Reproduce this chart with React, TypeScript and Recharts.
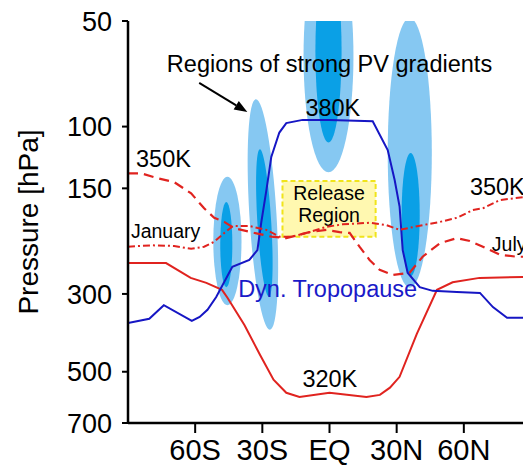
import React from 'react';
import {
  ComposedChart,
  Line,
  XAxis,
  YAxis,
  ReferenceArea,
  ReferenceLine,
  Scatter,
} from 'recharts';

// ---------- axes ----------
const xTickValues = [-60, -30, 0, 30, 60];
const xTickLabels = ['60S', '30S', 'EQ', '30N', '60N'];
const yTickValues = [50, 100, 150, 300, 500, 700];

// ---------- series: [latitude, pressure hPa] ----------
const theta320K: [number, number][] = [
  [-90, 245], [-73, 245], [-62, 270], [-55, 279], [-48, 292], [-45.5, 308],
  [-38, 368], [-31, 448], [-25, 527], [-19.3, 574], [-13.4, 590], [0, 574],
  [16.5, 590], [22.5, 582], [27, 555], [31.3, 517], [39, 390], [48, 292],
  [55, 278], [67, 270], [90, 268],
];

const dynTropopause: [number, number][] = [
  [-90, 363], [-80.5, 353], [-74, 323], [-61.5, 358], [-58, 349], [-54.5, 333],
  [-50.6, 306], [-43.4, 251], [-35.8, 240], [-32.2, 225], [-30.5, 188],
  [-28.2, 152], [-26, 122], [-22.4, 104], [-19.3, 97.7], [-12, 95.7], [0, 95.7],
  [19.3, 96.6], [26, 116.6], [29.1, 142], [31.3, 169], [32.7, 225], [34.9, 261],
  [40.3, 287], [46.1, 294], [56.9, 296], [67.2, 298], [73, 327], [79.3, 351],
  [90, 351],
];

const theta350Dashed: [number, number][] = [
  [-90, 136], [-84, 136], [-77.5, 140], [-69.4, 144], [-61.8, 155], [-56, 171],
  [-51.5, 182], [-47, 187], [-42.5, 195], [-35, 200], [-26, 206], [-19.3, 208],
  [-9, 200], [-1.3, 197], [4.5, 200], [9, 201], [13.4, 220], [17.9, 240],
  [22.4, 256], [28.2, 265], [35.8, 261], [41.6, 235], [49.3, 215], [56.9, 208],
  [62.7, 212], [68.5, 220], [76.1, 232], [83.7, 235], [90, 235],
];

const theta350DashDot: [number, number][] = [
  [-90, 220], [-79.3, 218], [-69.4, 219], [-61.8, 223], [-56, 220], [-51.5, 213],
  [-47, 201], [-43, 192], [-36, 192], [-28.2, 197], [-22.4, 206], [-16.6, 206],
  [-9, 200], [-1.3, 193], [5.8, 190], [17.9, 188], [25.5, 191], [31.3, 197],
  [41.6, 191], [49.3, 187], [56.9, 182], [64, 173], [68.5, 171], [76.1, 162],
  [86.4, 159], [90, 158],
];

// ---------- regions of strong PV gradients (lat range, pressure range) ----------
const pvOuter = [
  { lat1: -51.9, lat2: -39.3, p1: 139, p2: 323 },
  { lat1: -35.8, lat2: -23.7, p1: 83.4, p2: 380 },
  { lat1: -11.6, lat2: 10.7, p1: 29.4, p2: 135 },
  { lat1: 26, lat2: 45.7, p1: 49, p2: 288 },
];
const pvInner = [
  { lat1: -48.8, lat2: -43.4, p1: 164, p2: 287 },
  { lat1: -32.2, lat2: -26.0, p1: 116, p2: 306 },
  { lat1: -6.3, lat2: 5.4, p1: 33.5, p2: 111 },
  { lat1: 32.2, lat2: 40.3, p1: 119, p2: 267 },
];
// slight lean of each region (degrees), style only
const pvTilt = [0, -3.5, 0, 0];

const releaseRegion = { lat1: -21, lat2: 20.6, p1: 143, p2: 206 };
const releaseText = ['Release', 'Region'];

const arrowFrom = { lat: -58.2, p: 75.1 };
const arrowTo = { lat: -36.7, p: 90.9 };

// ---------- annotations (anchor in data coordinates) ----------
const annotations = [
  { text: 'Regions of strong PV gradients', lat: 0, p: 70, kind: 'bigCenter' },
  { text: '380K', lat: 1.5, p: 93.3, kind: 'bigCenter' },
  { text: '350K', lat: -86.4, p: 130, kind: 'big' },
  { text: '350K', lat: 62.7, p: 157, kind: 'big' },
  { text: 'January', lat: -88.7, p: 208, kind: 'small' },
  { text: 'July', lat: 72.5, p: 226, kind: 'small' },
  { text: 'Dyn. Tropopause', lat: -40.8, p: 306, kind: 'blue' },
  { text: '320K', lat: -12.1, p: 552, kind: 'big' },
];

const FONT = '"Liberation Sans", Arial, Helvetica, sans-serif';
const annotationStyles: Record<string, { size: number; color: string; anchor: 'start' | 'middle' }> = {
  bigCenter: { size: 23.5, color: '#000', anchor: 'middle' },
  big: { size: 23.5, color: '#000', anchor: 'start' },
  small: { size: 19.5, color: '#000', anchor: 'start' },
  blue: { size: 23.5, color: '#1a1ac8', anchor: 'start' },
};

const toRows = (arr: [number, number][]) => arr.map(([lat, p]) => ({ lat, p }));

const RED = '#e0231f';
const BLUE = '#1616c4';
const LIGHT = '#86c8f2';
const DARK = '#0aa0e6';

const ellipseShape = (fill: string, tilt: number) => (props: any) => {
  const x = Math.min(props.x, props.x + props.width);
  const y = Math.min(props.y, props.y + props.height);
  const w = Math.abs(props.width);
  const h = Math.abs(props.height);
  const cx = x + w / 2;
  const cy = y + h / 2;
  return (
    <g clipPath={props.clipPath}>
      <ellipse
        cx={cx}
        cy={cy}
        rx={w / 2}
        ry={h / 2}
        fill={fill}
        stroke="none"
        transform={tilt ? `rotate(${tilt} ${cx} ${cy})` : undefined}
      />
    </g>
  );
};

const releaseShape = (props: any) => {
  const x = Math.min(props.x, props.x + props.width);
  const y = Math.min(props.y, props.y + props.height);
  const w = Math.abs(props.width);
  const h = Math.abs(props.height);
  return (
    <g>
      <rect x={x} y={y} width={w} height={h} fill="#fff8b0" stroke="#f0e41a" strokeWidth={2} strokeDasharray="5 3" />
      <text x={x + w / 2} y={y + 19} textAnchor="middle" fontSize={19.5} fontFamily={FONT} fill="#000">
        {releaseText[0]}
      </text>
      <text x={x + w / 2} y={y + 41} textAnchor="middle" fontSize={19.5} fontFamily={FONT} fill="#000">
        {releaseText[1]}
      </text>
    </g>
  );
};

const arrowShape = (props: any) => {
  const { x1, y1, x2, y2 } = props;
  const dx = x2 - x1;
  const dy = y2 - y1;
  const len = Math.sqrt(dx * dx + dy * dy);
  const ux = dx / len;
  const uy = dy / len;
  const headL = 13;
  const headW = 5;
  const bx = x2 - ux * headL;
  const by = y2 - uy * headL;
  const px = -uy;
  const py = ux;
  return (
    <g>
      <line x1={x1} y1={y1} x2={bx} y2={by} stroke="#000" strokeWidth={2} />
      <polygon
        points={`${x2},${y2} ${bx + px * headW},${by + py * headW} ${bx - px * headW},${by - py * headW}`}
        fill="#000"
      />
    </g>
  );
};

const annotationShape = (props: any) => {
  const { cx, cy, payload } = props;
  const st = annotationStyles[payload.kind];
  return (
    <text x={cx} y={cy} textAnchor={st.anchor} fontSize={st.size} fill={st.color} fontFamily={FONT}>
      {payload.text}
    </text>
  );
};

export default function App() {
  return (
    <div style={{ position: 'fixed', left: 0, top: 0, width: 523, height: 465, overflow: 'hidden', background: '#fff' }}>
      <ComposedChart width={545} height={465} margin={{ top: 21, right: 14, bottom: 0, left: 0 }}>
        <XAxis
          dataKey="lat"
          type="number"
          domain={[-90, 90]}
          ticks={xTickValues}
          tickFormatter={(v: number) => xTickLabels[xTickValues.indexOf(v)]}
          height={42}
          tickSize={10}
          tickMargin={6}
          axisLine={{ stroke: '#000', strokeWidth: 2.5 }}
          tickLine={{ stroke: '#000', strokeWidth: 2 }}
          tick={{ fontSize: 29, fill: '#000', fontFamily: FONT }}
          allowDataOverflow
        />
        <XAxis
          xAxisId="top"
          orientation="top"
          type="number"
          domain={[-90, 90]}
          height={0}
          tick={false}
          tickLine={false}
          axisLine={{ stroke: '#000', strokeWidth: 2.5 }}
        />
        <YAxis
          type="number"
          scale="log"
          domain={[50, 700]}
          reversed
          ticks={yTickValues}
          width={128}
          tickSize={6}
          tickMargin={10}
          axisLine={{ stroke: '#000', strokeWidth: 2.5 }}
          tickLine={{ stroke: '#000', strokeWidth: 2 }}
          tick={{ fontSize: 27, fill: '#000', fontFamily: FONT }}
          allowDataOverflow
          label={{
            content: (props: any) => {
              const vb = props.viewBox || { x: 0, y: 21, width: 128, height: 402 };
              const cy = vb.y + vb.height / 2;
              return (
                <text
                  x={28}
                  y={cy}
                  transform={`rotate(-90 28 ${cy})`}
                  textAnchor="middle"
                  dominantBaseline="central"
                  fontSize={28}
                  fontFamily={FONT}
                  fill="#000"
                >
                  Pressure [hPa]
                </text>
              );
            },
          }}
        />

        {pvOuter.map((e, i) => (
          <ReferenceArea
            key={`o${i}`}
            x1={e.lat1}
            x2={e.lat2}
            y1={e.p1}
            y2={e.p2}
            ifOverflow="hidden"
            shape={ellipseShape(LIGHT, pvTilt[i])}
          />
        ))}
        {pvInner.map((e, i) => (
          <ReferenceArea
            key={`i${i}`}
            x1={e.lat1}
            x2={e.lat2}
            y1={e.p1}
            y2={e.p2}
            ifOverflow="hidden"
            shape={ellipseShape(DARK, pvTilt[i])}
          />
        ))}
        <ReferenceArea
          x1={releaseRegion.lat1}
          x2={releaseRegion.lat2}
          y1={releaseRegion.p1}
          y2={releaseRegion.p2}
          ifOverflow="visible"
          shape={releaseShape}
        />

        <Line data={toRows(theta320K)} dataKey="p" stroke={RED} strokeWidth={2} dot={false} activeDot={false} isAnimationActive={false} />
        <Line data={toRows(dynTropopause)} dataKey="p" stroke={BLUE} strokeWidth={2} dot={false} activeDot={false} isAnimationActive={false} />
        <Line data={toRows(theta350Dashed)} dataKey="p" stroke={RED} strokeWidth={2.2} strokeDasharray="10 6" dot={false} activeDot={false} isAnimationActive={false} />
        <Line data={toRows(theta350DashDot)} dataKey="p" stroke={RED} strokeWidth={2} strokeDasharray="7 3 2 3" dot={false} activeDot={false} isAnimationActive={false} />

        <ReferenceLine
          segment={[{ x: arrowFrom.lat, y: arrowFrom.p }, { x: arrowTo.lat, y: arrowTo.p }]}
          ifOverflow="visible"
          shape={arrowShape}
        />

        <Scatter data={annotations} dataKey="p" shape={annotationShape} isAnimationActive={false} />
      </ComposedChart>
    </div>
  );
}
